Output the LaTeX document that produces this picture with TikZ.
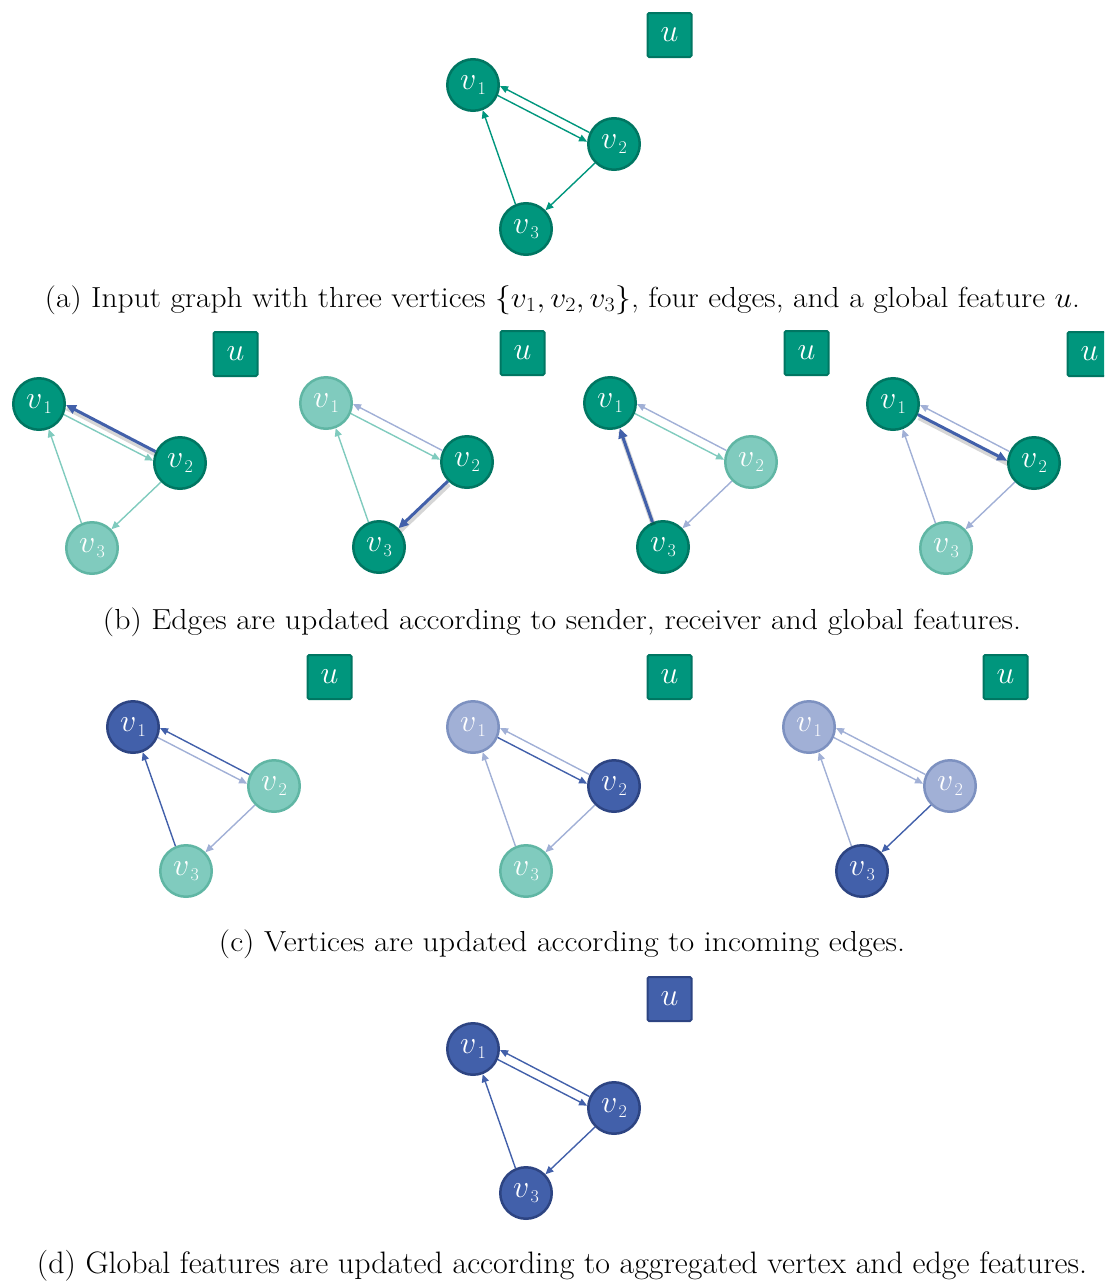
\RequirePackage{fix-cm}
\documentclass[tikz,border=0pt]{standalone}
\usepackage{graphicx}
\usetikzlibrary{arrows.meta}
\definecolor{teal0}{RGB}{0,150,125}
\definecolor{tealB}{RGB}{0,118,98}
\definecolor{lteal}{RGB}{128,203,190}
\definecolor{ltealB}{RGB}{96,182,164}
\definecolor{blue0}{RGB}{66,96,170}
\definecolor{blueB}{RGB}{45,68,130}
\definecolor{lblue}{RGB}{161,176,214}
\definecolor{lblueB}{RGB}{125,145,192}
\tikzset{
 vx/.style={circle, minimum size=51.5pt, inner sep=0pt, line width=2.5pt, text=white, font=\fontsize{32}{36}\selectfont},
 vT/.style={vx, fill=teal0, draw=tealB},
 vLT/.style={vx, fill=lteal, draw=ltealB},
 vB/.style={vx, fill=blue0, draw=blueB},
 vLB/.style={vx, fill=lblue, draw=lblueB},
 ux/.style={rectangle, minimum size=44pt, inner sep=0pt, line width=2pt, rounded corners=1.5pt, text=white, font=\fontsize{32}{36}\selectfont},
 uT/.style={ux, fill=teal0, draw=tealB},
 uB/.style={ux, fill=blue0, draw=blueB},
 ed/.style={line width=1.4pt, -{Triangle[length=8pt,width=7pt]}},
 eT/.style={ed, draw=teal0},
 eLT/.style={ed, draw=lteal},
 eB/.style={ed, draw=blue0},
 eLB/.style={ed, draw=lblue},
 eH/.style={line width=3pt, draw=blue0, -{Triangle[length=10pt,width=9pt]}},
 shd/.style={line width=5pt, draw=black, opacity=.16, transform canvas={xshift=1pt,yshift=-3pt}},
 captxt/.style={anchor=base, inner sep=0pt, font=\fontsize{29}{34}\selectfont},
}
\newcommand\vlab[1]{$v$\kern1pt\raisebox{-5pt}{\fontsize{18}{20}\selectfont #1}}
\newcommand\gnodes[5]{%
 \node[#2] (#1v1) at (0,0) {\vlab{1}};
 \node[#3] (#1v2) at (141,59) {\vlab{2}};
 \node[#4] (#1v3) at (53,144) {\vlab{3}};
 \node[#5] (#1u) at (196.5,-50) {$u$};
}
\newcommand\gedges[5]{%
 \draw[#2] (#1v2.155) -- (#1v1.-2);
 \draw[#3] (#1v1.-23) -- (#1v2.175);
 \draw[#4] (#1v2.225) -- (#1v3.44);
 \draw[#5] (#1v3.113) -- (#1v1.-69);
}
\begin{document}
\begin{tikzpicture}[x=1pt,y=-1pt]
\useasboundingbox (0,0) rectangle (1104,1282);
\clip (0,0) rectangle (1104,1282);
% (a)
\begin{scope}[shift={(473,85)}]
 \gnodes{a}{vT}{vT}{vT}{uT}
 \gedges{a}{eT}{eT}{eT}{eT}
\end{scope}
% (b)
\begin{scope}[shift={(39,404)}]
 \gnodes{bA}{vT}{vT}{vLT}{uT}
 \draw[shd] (bAv2.155) -- (bAv1.-2);
 \gedges{bA}{eH}{eLT}{eLT}{eLT}
\end{scope}
\begin{scope}[shift={(326,403)}]
 \gnodes{bB}{vLT}{vT}{vT}{uT}
 \draw[shd] (bBv2.225) -- (bBv3.44);
 \gedges{bB}{eLB}{eLT}{eH}{eLT}
\end{scope}
\begin{scope}[shift={(610,403)}]
 \gnodes{bC}{vT}{vLT}{vT}{uT}
 \draw[shd] (bCv3.113) -- (bCv1.-69);
 \gedges{bC}{eLB}{eLT}{eLB}{eH}
\end{scope}
\begin{scope}[shift={(893,404)}]
 \gnodes{bD}{vT}{vT}{vLT}{uT}
 \draw[shd] (bDv1.-23) -- (bDv2.175);
 \gedges{bD}{eLB}{eH}{eLB}{eLB}
\end{scope}
% (c)
\begin{scope}[shift={(133,727)}]
 \gnodes{cA}{vB}{vLT}{vLT}{uT}
 \gedges{cA}{eB}{eLB}{eLB}{eB}
\end{scope}
\begin{scope}[shift={(473,727)}]
 \gnodes{cB}{vLB}{vB}{vLT}{uT}
 \gedges{cB}{eLB}{eB}{eLB}{eLB}
\end{scope}
\begin{scope}[shift={(809,727)}]
 \gnodes{cC}{vLB}{vLB}{vB}{uT}
 \gedges{cC}{eLB}{eLB}{eB}{eLB}
\end{scope}
% (d)
\begin{scope}[shift={(473,1049)}]
 \gnodes{d}{vB}{vB}{vB}{uB}
 \gedges{d}{eB}{eB}{eB}{eB}
\end{scope}
% captions
\node[captxt] (capa) at (562.5,307) {\resizebox{1035pt}{\height}{(a) Input graph with three vertices $\{v_1,v_2,v_3\}$, four edges, and a global feature $u$.}};
\node[captxt] (capb) at (562,629) {\resizebox{918pt}{\height}{(b) Edges are updated according to sender, receiver and global features.}};
\node[captxt] (capc) at (562,951) {\resizebox{686pt}{\height}{(c) Vertices are updated according to incoming edges.}};
\node[captxt, font=\fontsize{31}{36}\selectfont] (capd) at (562,1273) {\resizebox{1050pt}{\height}{(d) Global features are updated according to aggregated vertex and edge features.}};
\end{tikzpicture}
\end{document}
